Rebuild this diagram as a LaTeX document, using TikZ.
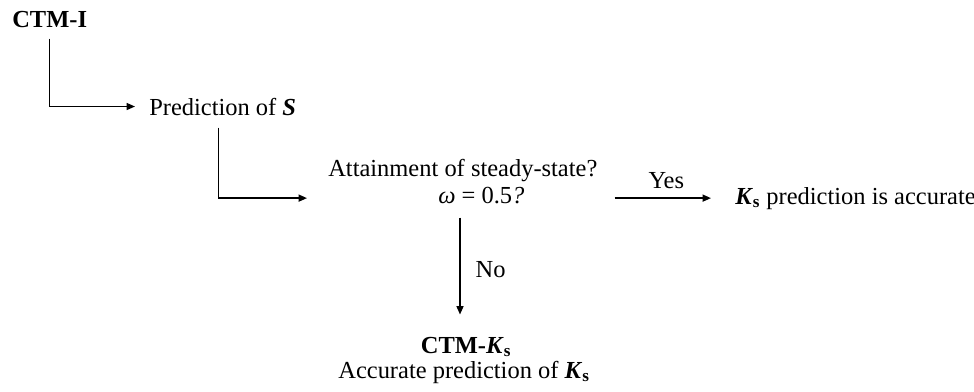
\documentclass[tikz,border=0pt]{standalone}
\usepackage{fontspec}
\setmainfont{Liberation Serif}
\usepackage{tikz}
\usetikzlibrary{arrows.meta, positioning}

\newcommand{\Kbold}{\textbf{\textit{K}}\textsubscript{\textbf{s}}}

\begin{document}
\begin{tikzpicture}[
  x=0.025cm, y=-0.025cm,
  txt/.style={inner sep=0pt, font=\fontsize{17.4}{21}\selectfont},
  arrow/.style={line width=1pt, -{Triangle[length=6pt, width=5pt]}}
]
\useasboundingbox (0,0) rectangle (974,391);

% Nodes
\node (ctmI) [txt, anchor=base west] at (12,27) {\textbf{CTM-I}};
\node (predS) [txt, anchor=base west] at (149,115) {Prediction of \textbf{\textit{S}}};
\node (steady) [txt, anchor=base west] at (328,176) {Attainment of steady-state?};
\node (omega) [txt, anchor=base west] at (438,203) {\textit{ω} = 0.5\textit{?}};
\node (ksok) [txt, anchor=base west] at (735,204) {\Kbold{} prediction is accurate};
\node (ctmK) [txt, anchor=base] at (466,353) {\textbf{CTM-}\Kbold};
\node (accK) [txt, anchor=base] at (464,378) {Accurate prediction of \Kbold};

% Arrows
\draw [arrow, shorten <=0.275cm, shorten >=0.35cm] (ctmI.south) |- (predS.west);
\draw [arrow, shorten <=0.3cm, shorten >=0.525cm] ([xshift=-0.1cm]predS.south) |- (steady.west |- ksok.west);
\draw [arrow, shorten <=0.425cm, shorten >=0.6cm] (steady.east |- ksok.west) -- node[txt, above=0.225cm] {Yes} (ksok.west);
\draw [arrow, shorten <=0.35cm, shorten >=0.55cm] ([xshift=-0.15cm]ctmK.north |- omega.south) -- node[txt, right=0.375cm] {No} ([xshift=-0.15cm]ctmK.north);

\end{tikzpicture}
\end{document}
